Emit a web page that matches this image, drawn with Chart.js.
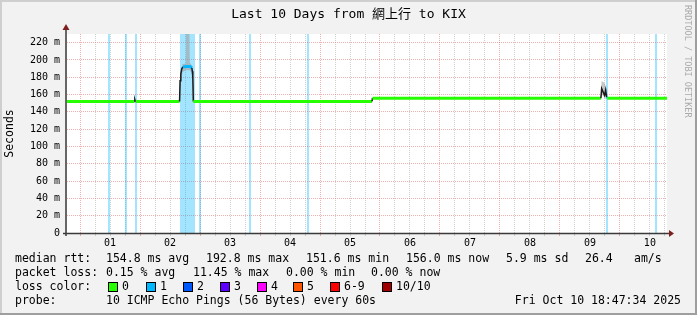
<!DOCTYPE html>
<html>
<head>
<meta charset="utf-8">
<script src="https://cdn.jsdelivr.net/npm/chart.js@4"></script>
<style>
  html, body { margin: 0; padding: 0; background: #f2f2f2; }
  #wrap { width: 697px; height: 315px; }
</style>
</head>
<body>
<div id="wrap"><canvas id="pingChart" width="697" height="315"></canvas></div>
<script>
// time axis is hours since Sep 30 00:00
const startHour = 18.75;
const endHour = 258.85;
const dayLabels = ['01', '02', '03', '04', '05', '06', '07', '08', '09', '10'];

// median rtt (ms)
const medianHours = [18.75, 45.7, 45.9, 46.1, 46.3, 63.8, 64.0, 64.3, 64.7, 65.2, 66.5, 68.0, 68.7, 68.9, 69.1, 69.3, 140.8, 141.0, 232.4, 232.7, 233.9, 234.3, 234.7, 234.9, 258.85];
const medianMs    = [152, 152, 154, 152, 152, 152, 176, 184, 190, 192, 192.5, 192.5, 191, 187, 180, 152, 152, 155.8, 155.8, 167, 159, 165, 157, 155.8, 155.8];

// smoke (spread of the pings)
const smokeHours = [18.75, 63.7, 64.0, 64.4, 65.0, 66.1, 66.3, 67.7, 67.9, 68.8, 69.3, 69.6, 232.3, 232.7, 233.9, 234.3, 234.8, 235.0, 258.85];
const smokeHi    = [152, 152, 178, 188, 195, 196, 240, 240, 197, 193, 175, 152, 155.8, 176, 173, 170, 160, 155.8, 155.8];
const smokeLo    = [152, 152, 160, 176, 186, 188, 188, 188, 188, 185, 160, 152, 155.8, 160, 157, 160, 156, 155.8, 155.8];

// packet loss periods
const lossStart = [35.2, 41.8, 45.8, 63.9, 71.4, 91.4, 114.6, 234.6, 254.2];
const lossEnd   = [35.6, 42.2, 46.2, 70.0, 71.8, 91.8, 115.0, 235.0, 254.6];
const lossCount = [1, 1, 1, 1, 1, 1, 1, 1, 1];

const lossLabels = ['0', '1', '2', '3', '4', '5', '6-9', '10/10'];
const lossColors = ['#26ff00', '#00b8ff', '#0059ff', '#5e00ff', '#ff00ff', '#ff5500', '#ff0000', '#a10000'];

const rttText  = ['154.8 ms avg', '192.8 ms max', '151.6 ms min', '156.0 ms now', '5.9 ms sd', '26.4', 'am/s'];
const lossText = ['0.15 % avg', '11.45 % max', '0.00 % min', '0.00 % now'];

const MONO = '"DejaVu Sans Mono", "Noto Sans CJK TC", monospace';
const gridMinor = 'rgba(143,143,143,0.42)';
const gridMajor = 'rgba(222,79,79,0.45)';

function lossAt(h) {
    for (let i = 0; i < lossStart.length; i++) {
        if (h >= lossStart[i] && h <= lossEnd[i]) return lossCount[i];
    }
    return 0;
}

function segSteep(ctx) {
    return Math.abs(medianMs[ctx.p1DataIndex] - medianMs[ctx.p0DataIndex]) > 1.5;
}

// background, frame, loss bands, axes and the text below the graph
const rrdPlugin = {
    id: 'rrdLook',
    beforeDraw(chart) {
        const c = chart.ctx, a = chart.chartArea;
        c.save();
        c.fillStyle = '#f2f2f2';
        c.fillRect(0, 0, 697, 315);
        c.fillStyle = '#cfcfcf';
        c.fillRect(0, 0, 697, 2);
        c.fillRect(0, 0, 2, 315);
        c.fillStyle = '#9e9e9e';
        c.fillRect(0, 313, 697, 2);
        c.fillRect(695, 0, 2, 315);
        c.fillStyle = '#ffffff';
        c.fillRect(a.left, a.top, a.right - a.left, a.bottom - a.top);
        c.restore();
    },
    beforeDatasetsDraw(chart) {
        const c = chart.ctx, a = chart.chartArea, x = chart.scales.x;
        c.save();
        c.fillStyle = 'rgba(0,184,255,0.36)';
        for (let i = 0; i < lossStart.length; i++) {
            const x0 = Math.round(x.getPixelForValue(lossStart[i]));
            const x1 = Math.max(x0 + 2, Math.round(x.getPixelForValue(lossEnd[i])));
            c.fillRect(x0, a.top, x1 - x0, a.bottom - a.top);
        }
        c.restore();
    },
    afterDraw(chart) {
        const c = chart.ctx, a = chart.chartArea;
        c.save();
        // axes
        c.strokeStyle = '#3a3a3a';
        c.lineWidth = 1.5;
        c.beginPath();
        c.moveTo(a.left - 1, a.bottom + 3);
        c.lineTo(a.left - 1, a.top - 5);
        c.moveTo(a.left - 4, a.bottom + 0.5);
        c.lineTo(a.right + 3, a.bottom + 0.5);
        c.stroke();
        c.fillStyle = '#7f1f1f';
        c.beginPath();
        c.moveTo(a.left - 4.5, a.top - 4);
        c.lineTo(a.left + 2.5, a.top - 4);
        c.lineTo(a.left - 1, a.top - 10);
        c.closePath();
        c.fill();
        c.beginPath();
        c.moveTo(a.right + 2, a.bottom - 3);
        c.lineTo(a.right + 2, a.bottom + 4);
        c.lineTo(a.right + 7, a.bottom + 0.5);
        c.closePath();
        c.fill();

        // title
        c.fillStyle = '#000';
        c.textBaseline = 'middle';
        c.textAlign = 'center';
        c.font = '13px ' + MONO;
        c.fillText('Last 10 Days from 網上行 to KIX', 348.5, 15);

        // watermark
        c.save();
        c.translate(687, 5);
        c.rotate(Math.PI / 2);
        c.textAlign = 'left';
        c.fillStyle = '#aaaaaa';
        c.font = '8.5px ' + MONO;
        c.fillText('RRDTOOL / TOBI OETIKER', 0, 0);
        c.restore();

        // legend lines
        c.textAlign = 'left';
        c.font = '11.5px ' + MONO;
        c.fillText('median rtt:', 15, 259);
        const rttX = [106, 206, 306, 406, 506, 585, 634];
        rttText.forEach((t, i) => c.fillText(t, rttX[i], 259));
        c.fillText('packet loss:', 15, 273);
        const lossX = [106, 193, 286, 371];
        lossText.forEach((t, i) => c.fillText(t, lossX[i], 273));
        c.fillText('loss color:', 15, 287);
        const boxX = [108, 145.5, 182.5, 219.5, 256.5, 292.5, 330, 381.5];
        lossLabels.forEach((t, i) => {
            const bx = Math.round(boxX[i]);
            c.fillStyle = '#000';
            c.fillRect(bx, 282, 10, 10);
            c.fillStyle = lossColors[i];
            c.fillRect(bx + 1, 283, 8, 8);
            c.fillStyle = '#000';
            c.fillText(t, bx + 14, 287);
        });
        c.fillText('probe:', 15, 301);
        c.fillText('10 ICMP Echo Pings (56 Bytes) every 60s', 106, 301);
        c.textAlign = 'right';
        c.fillText('Fri Oct 10 18:47:34 2025', 681, 301);
        c.restore();
    }
};

const gridHours = [];
for (let h = 24; h < endHour; h += 6) gridHours.push(h);

new Chart(document.getElementById('pingChart'), {
    type: 'line',
    data: {
        datasets: [{
            label: 'median',
            data: medianHours.map((h, i) => ({ x: h, y: medianMs[i] })),
            borderColor: lossColors[0],
            borderWidth: 3,
            pointRadius: 0,
            fill: false,
            segment: {
                borderColor: ctx => segSteep(ctx) ? '#1a1a1a'
                    : lossColors[lossAt((medianHours[ctx.p0DataIndex] + medianHours[ctx.p1DataIndex]) / 2)],
                borderWidth: ctx => segSteep(ctx) ? 1.5 : 3
            }
        }, {
            label: 'smoke hi',
            data: smokeHours.map((h, i) => ({ x: h, y: smokeHi[i] })),
            borderWidth: 0,
            pointRadius: 0,
            backgroundColor: 'rgba(160,160,160,0.6)',
            fill: 2
        }, {
            label: 'smoke lo',
            data: smokeHours.map((h, i) => ({ x: h, y: smokeLo[i] })),
            borderWidth: 0,
            pointRadius: 0,
            fill: false
        }]
    },
    options: {
        responsive: false,
        animation: false,
        devicePixelRatio: 1,
        layout: { padding: { top: 34, right: 30, bottom: 62, left: 0 } },
        plugins: { legend: { display: false }, tooltip: { enabled: false }, title: { display: false } },
        scales: {
            x: {
                type: 'linear',
                min: startHour,
                max: endHour,
                afterBuildTicks: s => { s.ticks = gridHours.map(v => ({ value: v })); },
                afterFit: s => { s.height = 20; },
                grid: {
                    color: ctx => (ctx.tick && ctx.tick.value % 24 === 0) ? gridMajor : gridMinor,
                    lineWidth: 1,
                    drawTicks: true,
                    tickLength: 3
                },
                border: { display: false, dash: [1, 1] },
                ticks: {
                    autoSkip: false,
                    maxRotation: 0,
                    padding: 1,
                    color: '#000',
                    font: { family: MONO, size: 10 },
                    callback: v => (v % 24 === 12) ? dayLabels[Math.floor(v / 24) - 1] : ''
                }
            },
            y: {
                min: 0,
                max: 230,
                afterFit: s => { s.width = 67; },
                grid: {
                    color: ctx => (ctx.tick && ctx.tick.value % 20 === 0) ? gridMajor : gridMinor,
                    lineWidth: 1,
                    drawTicks: false
                },
                border: { display: false, dash: [1, 1] },
                ticks: {
                    stepSize: 10,
                    padding: 7,
                    color: '#000',
                    font: { family: MONO, size: 10 },
                    callback: v => v % 20 === 0 ? (v === 0 ? '0' : v + ' m') : ''
                },
                title: {
                    display: true,
                    text: 'Seconds',
                    color: '#000',
                    font: { family: MONO, size: 11.5 },
                    padding: { top: 3, bottom: 0 }
                }
            }
        }
    },
    plugins: [rrdPlugin]
});
</script>
</body>
</html>
